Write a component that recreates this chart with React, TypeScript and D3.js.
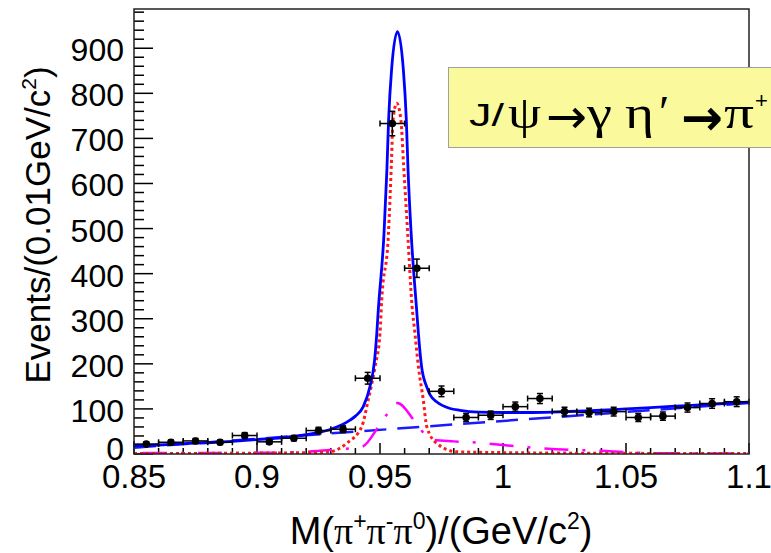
import React from 'react';
import * as d3 from 'd3';

// ---- data ----
const binCenters = [0.855, 0.865, 0.875, 0.885, 0.895, 0.905, 0.915, 0.925, 0.935, 0.945, 0.955, 0.965, 0.975, 0.985, 0.995, 1.005, 1.015, 1.025, 1.035, 1.045, 1.055, 1.065, 1.075, 1.085, 1.095];
const counts = [22, 26, 29, 26, 41, 27, 35, 52, 55, 168, 733, 412, 139, 81, 86, 105, 123, 94, 92, 94, 81, 84, 103, 112, 116];
const countErrors = [4.7, 5.1, 5.4, 5.1, 6.4, 5.2, 5.9, 7.2, 7.4, 13, 27.1, 20.3, 11.8, 9, 9.3, 10.2, 11.1, 9.7, 9.6, 9.7, 9, 9.2, 10.1, 10.6, 10.8];
const binHalfWidth = 0.005;

// total fit (blue solid)
const totalFit: [number, number][] = [
  [0.85, 18], [0.86, 20], [0.87, 23], [0.88, 25], [0.89, 28], [0.9, 32], [0.91, 36], [0.92, 43], [0.93, 55],
  [0.935, 66], [0.9378, 75], [0.94, 84], [0.9432, 105], [0.9459, 149], [0.9478, 208], [0.9487, 268],
  [0.9493, 319], [0.9516, 486], [0.9528, 630], [0.9535, 741], [0.9547, 852], [0.9571, 937],
  [0.9595, 852], [0.9607, 741], [0.9614, 630], [0.9627, 486], [0.9649, 319], [0.9656, 268],
  [0.9669, 194], [0.969, 149], [0.9705, 130], [0.973, 116], [0.9785, 101], [0.9825, 97],
  [0.99, 93], [1.0, 92], [1.01, 92], [1.02, 93], [1.03, 95], [1.04, 97], [1.05, 100], [1.06, 103],
  [1.07, 106], [1.08, 109], [1.09, 112], [1.1, 115],
];
// signal (red dotted)
const signalFit: [number, number][] = [
  [0.85, 1], [0.9, 2], [0.92, 3], [0.9297, 5], [0.9365, 24], [0.9426, 61], [0.9452, 120], [0.948, 194],
  [0.95, 268], [0.9507, 342], [0.9534, 486], [0.9546, 640], [0.9553, 741], [0.9568, 778], [0.9585, 741],
  [0.9596, 640], [0.9613, 486], [0.963, 330], [0.9642, 268], [0.9656, 194], [0.9676, 120], [0.969, 61],
  [0.973, 24], [0.9812, 5], [1.0, 3], [1.05, 1.5], [1.1, 1],
];
// smooth background (blue dashed)
const bkgLine: [number, number][] = [[0.85, 14], [1.1, 113]];
// peaking background (magenta dash-dot)
const peakingBkg: [number, number][] = [
  [0.85, 2], [0.9, 2.5], [0.92, 5], [0.93, 9], [0.9426, 16], [0.9494, 61], [0.9527, 87], [0.957, 113],
  [0.9642, 72], [0.968, 45], [0.9722, 31], [0.98, 28], [0.99, 25], [1.0, 20], [1.01, 15], [1.02, 11],
  [1.03, 9], [1.04, 7], [1.05, 4], [1.06, 2], [1.07, 1.5], [1.1, 1],
];

const xTickValues = [0.85, 0.9, 0.95, 1, 1.05, 1.1];
const xTickLabels = ['0.85', '0.9', '0.95', '1', '1.05', '1.1'];
const yTickValues = [0, 100, 200, 300, 400, 500, 600, 700, 800, 900];

const W = 771, H = 553;
const L = 134, R = 749, T = 9, B = 454;

export default function App() {
  const x = d3.scaleLinear().domain([0.85, 1.1]).range([L, R]);
  const y = d3.scaleLinear().domain([0, 987]).range([B, T]);
  const line = d3.line<[number, number]>().x(d => x(d[0])).y(d => y(d[1])).curve(d3.curveMonotoneX);

  const xMinor = d3.range(0, 26).map(i => 0.85 + i * 0.01);
  const yMinor = d3.range(0, 50).map(i => i * 20).filter(v => v <= 987);

  const font = "'Liberation Sans', Arial, sans-serif";
  const serif = "'Liberation Serif', 'Times New Roman', serif";
  const arrowFont = "'DejaVu Sans', sans-serif";

  return (
    <svg width={W} height={H} style={{ position: 'absolute', left: 0, top: 0, display: 'block', background: '#fff' }} fontFamily={font}>
      <defs>
        <clipPath id="plotclip"><rect x={L} y={T} width={R - L} height={B - T} /></clipPath>
      </defs>
      <rect x={0} y={0} width={W} height={H} fill="#fff" />

      {/* ticks */}
      {xMinor.map((v, i) => {
        const major = Math.abs((v - 0.85) / 0.05 - Math.round((v - 0.85) / 0.05)) < 1e-6;
        return <line key={'xm' + i} x1={x(v)} x2={x(v)} y1={B} y2={B - (major ? 11 : 6)} stroke="#000" strokeWidth={1.5} />;
      })}
      {yMinor.map((v, i) => {
        const major = v % 100 === 0;
        return <line key={'ym' + i} x1={L} x2={L + (major ? 19 : 10)} y1={y(v)} y2={y(v)} stroke="#000" strokeWidth={1.5} />;
      })}

      {/* curves */}
      <g clipPath="url(#plotclip)" fill="none">
        <path d={line(bkgLine) || ''} stroke="#1a1aff" strokeWidth={2.5} strokeDasharray="22 11" />
        <path d={line(peakingBkg) || ''} stroke="#ff00ff" strokeWidth={2.5} strokeDasharray="24 14 3 14" strokeDashoffset={46} />
        <path d={line(signalFit) || ''} stroke="#ff1a1a" strokeWidth={3} strokeDasharray="3 3" />
        <path d={line(totalFit) || ''} stroke="#0000ff" strokeWidth={2.8} />
      </g>

      {/* data points */}
      <g stroke="#000" strokeWidth={1.5}>
        {binCenters.map((c, i) => {
          const cx = x(c), cy = y(counts[i]);
          const x0 = x(c - binHalfWidth), x1 = x(c + binHalfWidth);
          const y0 = y(counts[i] - countErrors[i]), y1 = y(counts[i] + countErrors[i]);
          return (
            <g key={'p' + i}>
              <line x1={x0} x2={x1} y1={cy} y2={cy} />
              <line x1={x0} x2={x0} y1={cy - 3} y2={cy + 3} />
              <line x1={x1} x2={x1} y1={cy - 3} y2={cy + 3} />
              <line x1={cx} x2={cx} y1={y0} y2={y1} />
              <line x1={cx - 3} x2={cx + 3} y1={y0} y2={y0} />
              <line x1={cx - 3} x2={cx + 3} y1={y1} y2={y1} />
              <circle cx={cx} cy={cy} r={3.8} fill="#000" stroke="none" />
            </g>
          );
        })}
      </g>

      {/* frame */}
      <rect x={L} y={T} width={R - L} height={B - T} fill="none" stroke="#222" strokeWidth={1.5} />

      {/* tick labels */}
      {xTickValues.map((v, i) => (
        <text key={'xl' + i} x={x(v)} y={488} textAnchor="middle" fontSize={33} fill="#000">{xTickLabels[i]}</text>
      ))}
      {yTickValues.map((v, i) => (
        <text key={'yl' + i} x={124} y={y(v) + (v === 0 ? 6 : 13)} textAnchor="end" fontSize={32} fill="#000">{v}</text>
      ))}

      {/* axis titles */}
      <text x={441} y={544} textAnchor="middle" fontSize={38} fill="#000">
        M(<tspan fontFamily={serif}>π</tspan><tspan dy={-15} fontSize={23}>+</tspan><tspan dy={15} fontFamily={serif}>π</tspan><tspan dy={-15} fontSize={23}>-</tspan><tspan dy={15} fontFamily={serif}>π</tspan><tspan dy={-15} fontSize={23}>0</tspan><tspan dy={15}>)/(GeV/c</tspan><tspan dy={-15} fontSize={23}>2</tspan><tspan dy={15}>)</tspan>
      </text>
      <text transform="translate(50,225) rotate(-90)" textAnchor="middle" fontSize={35} fill="#000">
        Events/(0.01GeV/c<tspan dy={-14} fontSize={21}>2</tspan><tspan dy={14}>)</tspan>
      </text>

      {/* label box */}
      <rect x={448.5} y={67.5} width={340} height={80} fill="#fafa9c" stroke="#a0a0a0" strokeWidth={1} />
      <g fill="#000">
        <text x={469} y={126} fontSize={31} textLength={35} lengthAdjust="spacingAndGlyphs">J/</text>
        <text x={508} y={128} fontFamily={serif} fontSize={47} textLength={33} lengthAdjust="spacingAndGlyphs">ψ</text>
        <text x={546} y={133} fontFamily={arrowFont} fontSize={48} textLength={41} lengthAdjust="spacingAndGlyphs">→</text>
        <text x={587} y={128} fontFamily={serif} fontSize={47} textLength={25} lengthAdjust="spacingAndGlyphs">γ</text>
        <text x={625} y={128} fontFamily={serif} fontSize={47} textLength={29} lengthAdjust="spacingAndGlyphs">η</text>
        <text x={659} y={128} fontFamily={serif} fontSize={47}>′</text>
        <text x={681} y={135} fontFamily={arrowFont} fontWeight="bold" fontSize={50} textLength={42} lengthAdjust="spacingAndGlyphs">→</text>
        <text x={724} y={128} fontFamily={serif} fontSize={47} textLength={30} lengthAdjust="spacingAndGlyphs">π</text>
        <text x={755} y={108} fontSize={22}>+</text>
      </g>
    </svg>
  );
}
